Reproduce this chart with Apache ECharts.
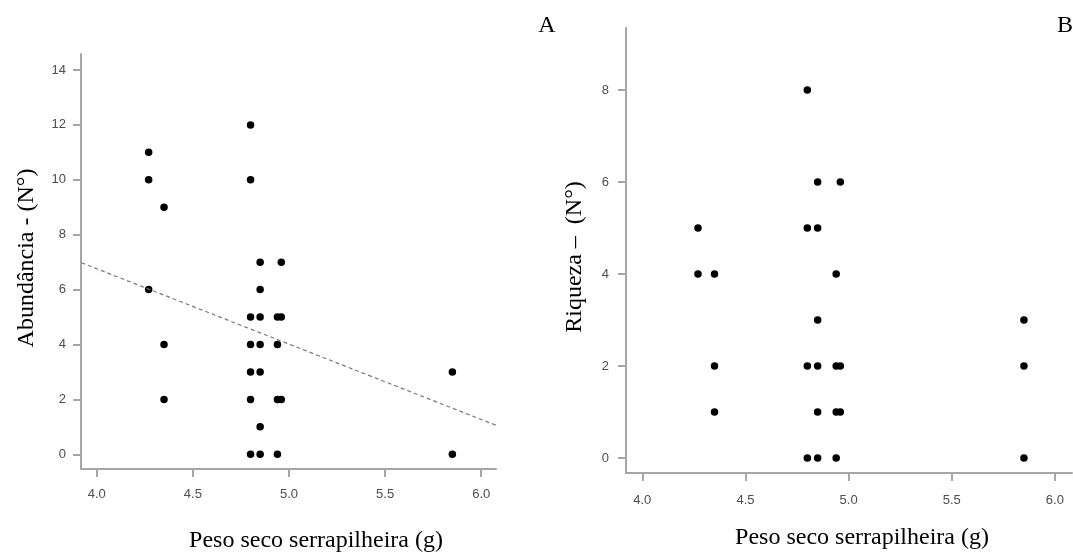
<!DOCTYPE html>
<html>
<head>
<meta charset="utf-8">
<script src="https://cdn.jsdelivr.net/npm/echarts@6/dist/echarts.min.js"></script>
<style>
  html, body { margin: 0; padding: 0; background: #fff; }
  #main { width: 1073px; height: 554px; }
</style>
</head>
<body>
<div id="main"></div>
<script>
// painel A - abundancia
var abundX = [4.27, 4.27, 4.27, 4.35, 4.35, 4.35,
  4.80, 4.80, 4.80, 4.80, 4.80, 4.80, 4.80,
  4.85, 4.85, 4.85, 4.85, 4.85, 4.85, 4.85,
  4.94, 4.94, 4.94, 4.94, 4.96, 4.96, 4.96, 5.85, 5.85];
var abundY = [11, 10, 6, 9, 4, 2,
  12, 10, 5, 4, 3, 2, 0,
  7, 6, 5, 4, 3, 1, 0,
  5, 4, 2, 0, 7, 5, 2, 3, 0];
// linha de tendencia (extremos)
var trendX = [3.92, 6.08];
var trendY = [6.98, 1.05];

// painel B - riqueza
var riqX = [4.27, 4.27, 4.35, 4.35, 4.35,
  4.80, 4.80, 4.80, 4.80,
  4.85, 4.85, 4.85, 4.85, 4.85, 4.85,
  4.94, 4.94, 4.94, 4.94, 4.96, 4.96, 4.96,
  5.85, 5.85, 5.85];
var riqY = [5, 4, 4, 2, 1,
  8, 5, 2, 0,
  6, 5, 3, 2, 1, 0,
  4, 2, 1, 0, 6, 2, 1,
  3, 2, 0];

var xTicks = [4.0, 4.5, 5.0, 5.5, 6.0];
var yTicksA = [0, 2, 4, 6, 8, 10, 12, 14];
var yTicksB = [0, 2, 4, 6, 8];

function pairs(xs, ys) {
  return xs.map(function (x, i) { return [x, ys[i]]; });
}

var axisGray = '#a6a6a6';
var labelStyle = { color: '#4d4d4d', fontSize: 13, fontFamily: 'Liberation Sans, Arial, sans-serif' };
var serif = 'Liberation Serif, Times New Roman, serif';

function xAxisCfg(idx, min, max, margin) {
  return {
    type: 'value', gridIndex: idx, min: min, max: max,
    axisLine: { show: true, onZero: false, lineStyle: { color: axisGray, width: 2 } },
    axisTick: { show: true, length: 8, customValues: xTicks, lineStyle: { color: axisGray, width: 2 } },
    axisLabel: Object.assign({ margin: margin, customValues: xTicks,
      formatter: function (v) { return v.toFixed(1); } }, labelStyle),
    splitLine: { show: false }
  };
}
function yAxisCfg(idx, min, max, ticks, margin) {
  return {
    type: 'value', gridIndex: idx, min: min, max: max,
    axisLine: { show: true, onZero: false, lineStyle: { color: axisGray, width: 2 } },
    axisTick: { show: true, length: 8, customValues: ticks, lineStyle: { color: axisGray, width: 2 } },
    axisLabel: Object.assign({ margin: margin, customValues: ticks }, labelStyle),
    splitLine: { show: false }
  };
}

var chart = echarts.init(document.getElementById('main'));
var option = {
  animation: false,
  grid: [
    { left: 81, top: 54, width: 415, height: 415 },
    { left: 626, top: 28, width: 446, height: 445 }
  ],
  xAxis: [
    xAxisCfg(0, 3.918, 6.077, 19),
    xAxisCfg(1, 3.921, 6.083, 21)
  ],
  yAxis: [
    yAxisCfg(0, -0.535, 14.583, yTicksA, 15),
    yAxisCfg(1, -0.326, 9.347, yTicksB, 17)
  ],
  series: [
    {
      type: 'line', xAxisIndex: 0, yAxisIndex: 0,
      data: pairs(trendX, trendY), symbol: 'none',
      lineStyle: { color: '#7a7a7a', width: 1.2, type: [4, 3] }
    },
    {
      type: 'scatter', xAxisIndex: 0, yAxisIndex: 0,
      data: pairs(abundX, abundY), symbolSize: 7.5,
      itemStyle: { color: '#000', opacity: 1 }
    },
    {
      type: 'scatter', xAxisIndex: 1, yAxisIndex: 1,
      data: pairs(riqX, riqY), symbolSize: 7.5,
      itemStyle: { color: '#000', opacity: 1 }
    }
  ],
  graphic: [
    { type: 'text', x: 316, y: 541, style: { text: 'Peso seco serrapilheira (g)', font: '24px ' + serif, fill: '#000', align: 'center', verticalAlign: 'middle' } },
    { type: 'text', x: 862, y: 538, style: { text: 'Peso seco serrapilheira (g)', font: '24px ' + serif, fill: '#000', align: 'center', verticalAlign: 'middle' } },
    { type: 'text', x: 27, y: 258, rotation: Math.PI / 2, style: { text: 'Abundância - (N°)', font: '24px ' + serif, fill: '#000', align: 'center', verticalAlign: 'middle' } },
    { type: 'text', x: 575, y: 257, rotation: Math.PI / 2, style: { text: 'Riqueza –  (N°)', font: '24px ' + serif, fill: '#000', align: 'center', verticalAlign: 'middle' } },
    { type: 'text', x: 547, y: 26, style: { text: 'A', font: '24px ' + serif, fill: '#000', align: 'center', verticalAlign: 'middle' } },
    { type: 'text', x: 1065, y: 26, style: { text: 'B', font: '24px ' + serif, fill: '#000', align: 'center', verticalAlign: 'middle' } }
  ]
};
chart.setOption(option);
</script>
</body>
</html>
